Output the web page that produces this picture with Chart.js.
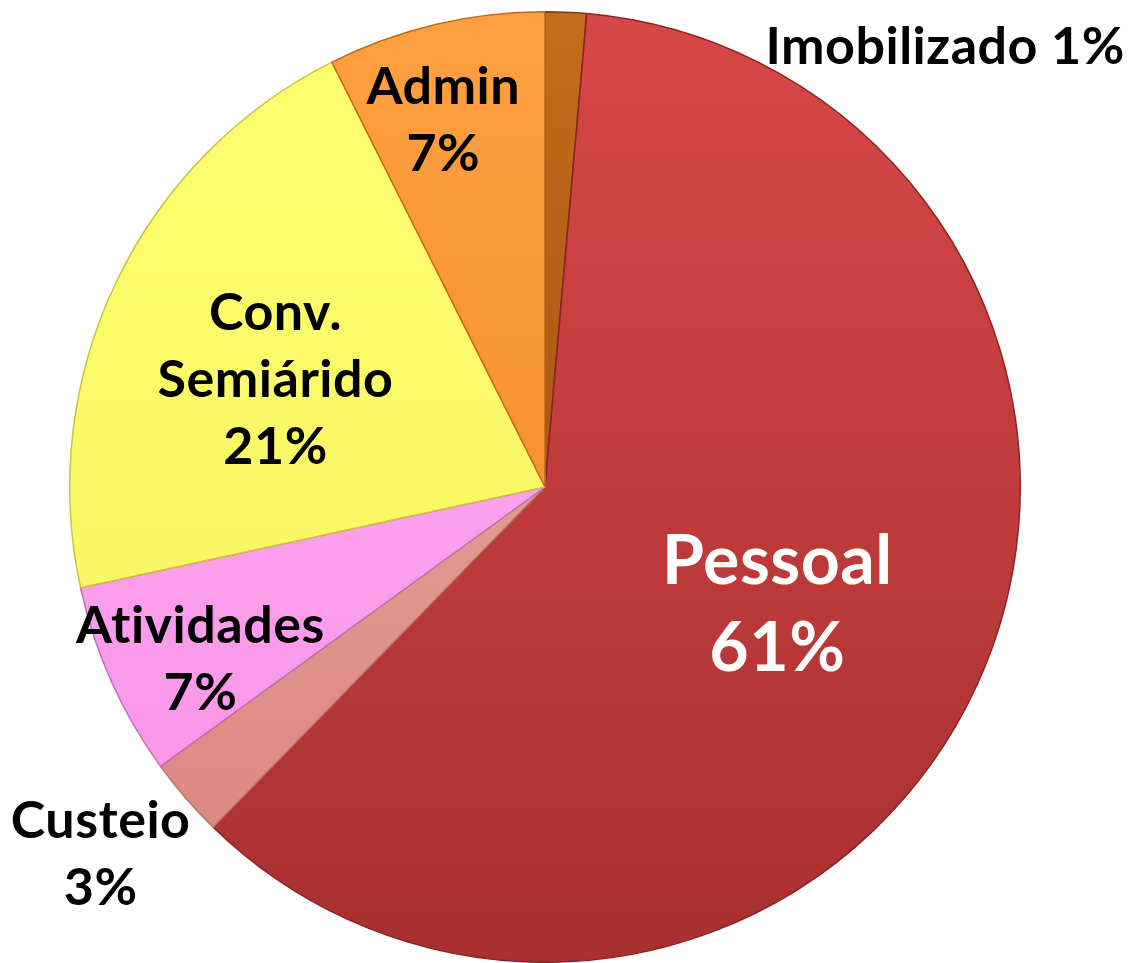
<!DOCTYPE html>
<html lang="pt">
<head>
<meta charset="UTF-8">
<title>Despesas</title>
<script src="https://cdn.jsdelivr.net/npm/chart.js"></script>
<style>
  html, body { margin: 0; padding: 0; background: #fff; }
  #wrap { width: 1136px; height: 963px; }
</style>
</head>
<body>
<div id="wrap"><canvas id="pie" width="1136" height="963"></canvas></div>
<script>
// dados (ordem horária a partir do topo)
var categorias = ["Imobilizado", "Pessoal", "Custeio", "Atividades", "Conv. Semiárido", "Admin"];
var valores = [1.4, 60.9, 2.7, 6.6, 21.0, 7.4];
// linhas de texto de cada rótulo (sem o percentual)
var rotulos = [["Imobilizado"], ["Pessoal"], ["Custeio"], ["Atividades"], ["Conv.", "Semiárido"], ["Admin"]];

// estilos
var corTopo = ["#c46c1c", "#d84747", "#f2aaa4", "#ffb0f4", "#ffff70", "#ffa040"];
var corBase = ["#8e440c", "#a83030", "#d8857e", "#fa90e6", "#f6f25c", "#ee8420"];
var corBorda = ["#7a3a08", "#8a2424", "#b8706a", "#c070b0", "#c8c440", "#c06a18"];
// posição do rótulo relativa ao centro, em unidades do raio
var posRotulo = [[0.842, -0.926], [0.489, 0.25], [-0.935, 0.773], [-0.725, 0.363], [-0.567, -0.225], [-0.214, -0.771]];
var corTexto = ["#000", "#fff", "#000", "#000", "#000", "#000"];
var umaLinha = [true, false, false, false, false, false];

function gradiente(context, i) {
    var chart = context.chart;
    var area = chart.chartArea;
    if (!area) return corTopo[i];
    var g = chart.ctx.createLinearGradient(0, area.top, 0, area.bottom);
    g.addColorStop(0, corTopo[i]);
    g.addColorStop(1, corBase[i]);
    return g;
}

var pluginRotulos = {
    id: "rotulos",
    afterDatasetsDraw: function (chart) {
        var ctx = chart.ctx;
        var meta = chart.getDatasetMeta(0);
        ctx.save();
        ctx.textAlign = "center";
        ctx.textBaseline = "middle";
        ctx.letterSpacing = "0.5px"; // evita a ligadura "ti" da Lato
        meta.data.forEach(function (arc, i) {
            var p = arc.getProps(["x", "y", "outerRadius"], true);
            var cx = p.x + posRotulo[i][0] * p.outerRadius;
            var cy = p.y + posRotulo[i][1] * p.outerRadius;
            var pct = Math.round(valores[i]) + "%";
            var grande = i === 1;
            var tam = grande ? 68 : 52;
            var passo = grande ? 87 : 67;
            ctx.font = "bold " + tam + "px Lato, 'Open Sans', sans-serif";
            ctx.fillStyle = corTexto[i];
            var linhas = umaLinha[i] ? [rotulos[i].join(" ") + " " + pct] : rotulos[i].concat([pct]);
            var y0 = cy - (linhas.length - 1) * passo / 2;
            linhas.forEach(function (t, k) {
                ctx.fillText(t, cx, y0 + k * passo);
            });
        });
        ctx.restore();
    }
};

new Chart(document.getElementById("pie"), {
    type: "pie",
    data: {
        labels: categorias,
        datasets: [{
            data: valores,
            backgroundColor: function (context) { return gradiente(context, context.dataIndex); },
            borderColor: corBorda,
            borderWidth: 1.5
        }]
    },
    options: {
        responsive: false,
        animation: false,
        layout: { padding: { left: 69, right: 115, top: 11, bottom: 0 } },
        plugins: {
            legend: { display: false },
            tooltip: { enabled: false }
        }
    },
    plugins: [pluginRotulos]
});
</script>
</body>
</html>
